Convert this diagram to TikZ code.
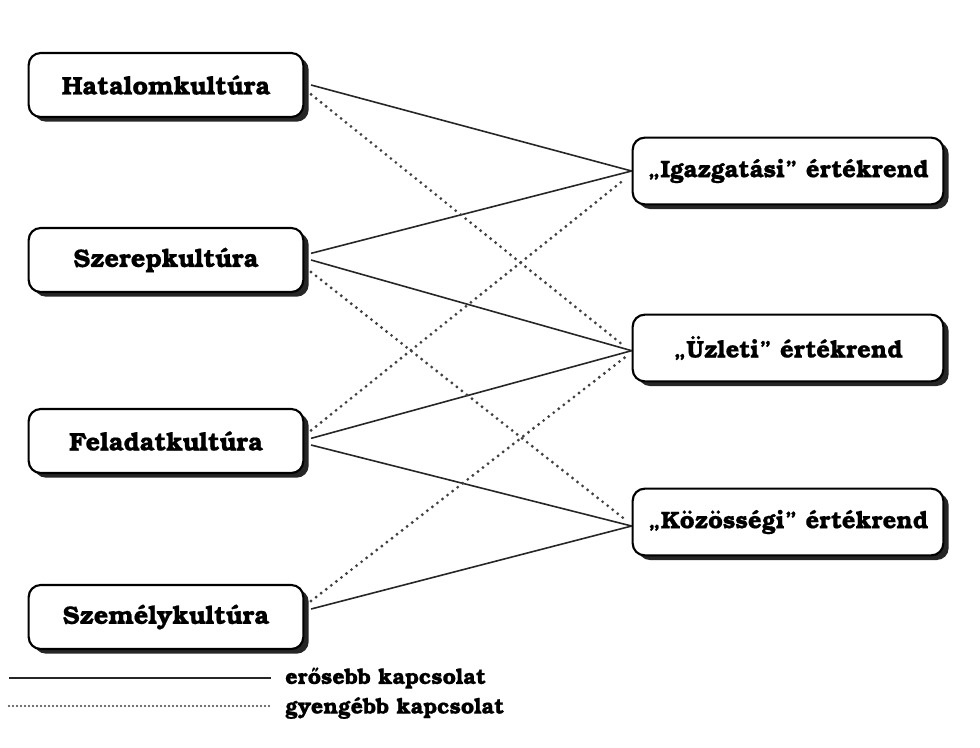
\documentclass[tikz,border=0pt]{standalone}
\usepackage{fontspec}
\setmainfont{texgyrebonum}[Extension=.otf, UprightFont=*-regular, BoldFont=*-bold,
  BoldFeatures={FakeBold=0.6}]
\usetikzlibrary{shadows}
\pgfdeclarelayer{background}
\pgfsetlayers{background,main}

\tikzset{
  culture/.style={draw=black, line width=1.6pt, fill=white, rounded corners=9pt,
    minimum width=206pt, minimum height=48pt, inner sep=0pt,
    font=\fontsize{19}{22}\selectfont\bfseries,
    drop shadow={shadow xshift=4pt, shadow yshift=-3.5pt, fill=black!85, opacity=1}},
  valuebox/.style={culture, minimum width=233pt, minimum height=50pt,
    font=\fontsize{18}{21}\selectfont\bfseries},
  strong/.style={line width=1.2pt, black!85},
  weak/.style={line width=2.4pt, black!75, dash pattern=on 0pt off 4.8pt, line cap=round},
  legendtext/.style={font=\fontsize{16.2}{19}\selectfont\bfseries, anchor=west, inner sep=0pt},
}

\begin{document}
\begin{tikzpicture}[x=0.75pt, y=-0.75pt]
\useasboundingbox (0,0) rectangle (980,747);

% organisational cultures
\node[culture] (H) at (166,85)  {Hatalomkult\'ura};
\node[culture] (S) at (166,260) {Szerepkult\'ura};
\node[culture] (F) at (166,441) {Feladatkult\'ura};
\node[culture] (P) at (166,617) {Szem\'elykult\'ura};

% value systems
\node[valuebox] (I) at (788,171) {,,Igazgat\'asi'' \'ert\'ekrend};
\node[valuebox] (U) at (788,348) {,,\"Uzleti'' \'ert\'ekrend};
\node[valuebox] (K) at (788,522) {,,K\"oz\"oss\'egi'' \'ert\'ekrend};

\begin{pgfonlayer}{background}
  % strong links
  \draw[strong] ([xshift=5pt]H.east) -- ([yshift=0pt]I.west);
  \draw[strong] ([xshift=5pt,yshift=5pt]S.east) -- (I.west);
  \draw[strong] ([xshift=5pt]S.east) -- ([yshift=-2pt]U.west);
  \draw[strong] ([xshift=5pt,yshift=2pt]F.east) -- ([yshift=-2pt]U.west);
  \draw[strong] ([xshift=5pt,yshift=-3pt]F.east) -- ([yshift=-3pt]K.west);
  \draw[strong] ([xshift=5pt,yshift=6pt]P.east) -- ([yshift=-3pt]K.west);
  % weak links
  \draw[weak] ([xshift=5pt,yshift=-7pt]H.east) -- ([xshift=-5pt,yshift=1pt]U.west);
  \draw[weak] ([xshift=5pt,yshift=-9pt]S.east) -- ([xshift=-5pt,yshift=2pt]K.west);
  \draw[weak] ([xshift=5pt,yshift=8pt]F.east) -- ([xshift=-5pt,yshift=-6pt]I.west);
  \draw[weak] ([xshift=5pt,yshift=12pt]P.east) -- ([xshift=-5pt,yshift=-7pt]U.west);
\end{pgfonlayer}

% legend
\coordinate (s1) at (9,678);
\coordinate (s2) at (271,678);
\coordinate (w1) at (9,706);
\coordinate (w2) at (271,706);
\draw[line width=1.6pt, black!85] (s1) -- (s2);
\draw[line width=1.6pt, black!75, dash pattern=on 0pt off 3pt, line cap=round] (w1) -- (w2);
\node[legendtext] (ls) at (285,678) {er\H{o}sebb kapcsolat};
\node[legendtext] (lw) at (285,708) {gyeng\'ebb kapcsolat};
\end{tikzpicture}
\end{document}
